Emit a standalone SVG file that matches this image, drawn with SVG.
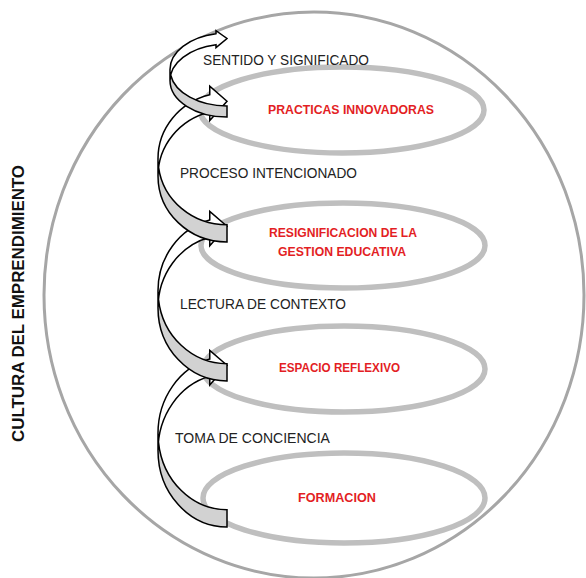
<svg xmlns="http://www.w3.org/2000/svg" width="586" height="578" viewBox="0 0 586 578">
<style>
.outer{fill:none;stroke:#a6a6a6;stroke-width:3}
.ring{fill:none;stroke:#bfbfbf;stroke-width:5.5}
.red{font-family:"Liberation Sans",Arial,sans-serif;font-weight:bold;font-size:12.5px;fill:#e31e24}
.lbl{font-family:"Liberation Sans",Arial,sans-serif;font-size:15px;fill:#222}
.title{font-family:"Liberation Sans",Arial,sans-serif;font-weight:bold;font-size:17px;fill:#111}
.front{fill:#ffffff;stroke:none}
.back{fill:#d2d2d2;stroke:none}
.edge{fill:none;stroke:#000;stroke-width:1.5;stroke-linejoin:miter}
</style>
<rect width="586" height="578" fill="#ffffff"/>
<g id="cultura">
<ellipse class="outer" cx="314" cy="295" rx="270" ry="283"/>
<text class="title" transform="translate(24,303.5) rotate(-90)" text-anchor="middle" textLength="277" lengthAdjust="spacingAndGlyphs">CULTURA DEL EMPRENDIMIENTO</text>
</g>
<g id="practicas">
<ellipse class="ring" cx="342" cy="110" rx="142" ry="43"/>
<text class="red" x="268" y="114" textLength="166" lengthAdjust="spacingAndGlyphs">PRACTICAS INNOVADORAS</text>
</g>
<g id="resignificacion">
<ellipse class="ring" cx="343" cy="245.5" rx="142" ry="42.5"/>
<text class="red" x="269" y="237" textLength="148" lengthAdjust="spacingAndGlyphs">RESIGNIFICACION DE LA</text>
<text class="red" x="278" y="256" textLength="128" lengthAdjust="spacingAndGlyphs">GESTION EDUCATIVA</text>
</g>
<g id="espacio">
<ellipse class="ring" cx="344" cy="369" rx="141" ry="43"/>
<text class="red" x="279" y="372" textLength="121" lengthAdjust="spacingAndGlyphs">ESPACIO REFLEXIVO</text>
</g>
<g id="formacion">
<ellipse class="ring" cx="344" cy="498" rx="141" ry="45"/>
<text class="red" x="298" y="502" textLength="78" lengthAdjust="spacingAndGlyphs">FORMACION</text>
</g>
<g id="connectors">
<g id="arrow-toma" transform="translate(158,527) scale(1,-1)">
<path class="front" d="M0,76.56 A69,76.56 0 0 0 51.75,150.69 L51.75,142.07 L69,161.75 L51.75,176.57 L51.75,167.94 A69,76.56 0 0 1 0,93.81 Z"/>
<path class="back" d="M69,17.25 A69,76.56 0 0 0 0.44,85.19 A69,76.56 0 0 1 69,0 Z"/>
<path class="edge" d="M0,76.56 A69,76.56 0 0 0 51.75,150.69 L51.75,142.07 L69,161.75 L51.75,176.57 L51.75,167.94 A69,76.56 0 0 1 0,93.81 L0,76.56 A69,76.56 0 0 1 69,0 L69,17.25 A69,76.56 0 0 0 0.44,85.19"/>
</g>
<g id="arrow-lectura" transform="translate(158,381) scale(1,-1)">
<path class="front" d="M0,73.06 A69,73.06 0 0 0 51.75,143.8 L51.75,135.18 L69,154.75 L51.75,169.68 L51.75,161.05 A69,73.06 0 0 1 0,90.31 Z"/>
<path class="back" d="M69,17.25 A69,73.06 0 0 0 0.48,81.69 A69,73.06 0 0 1 69,0 Z"/>
<path class="edge" d="M0,73.06 A69,73.06 0 0 0 51.75,143.8 L51.75,135.18 L69,154.75 L51.75,169.68 L51.75,161.05 A69,73.06 0 0 1 0,90.31 L0,73.06 A69,73.06 0 0 1 69,0 L69,17.25 A69,73.06 0 0 0 0.48,81.69"/>
</g>
<g id="arrow-proceso" transform="translate(158,242) scale(1,-1)">
<path class="front" d="M0,66.06 A69,66.06 0 0 0 51.75,130.02 L51.75,121.4 L69,140.75 L51.75,155.9 L51.75,147.27 A69,66.06 0 0 1 0,83.31 Z"/>
<path class="back" d="M69,17.25 A69,66.06 0 0 0 0.59,74.69 A69,66.06 0 0 1 69,0 Z"/>
<path class="edge" d="M0,66.06 A69,66.06 0 0 0 51.75,130.02 L51.75,121.4 L69,140.75 L51.75,155.9 L51.75,147.27 A69,66.06 0 0 1 0,83.31 L0,66.06 A69,66.06 0 0 1 69,0 L69,17.25 A69,66.06 0 0 0 0.59,74.69"/>
</g>
<g id="arrow-sentido" transform="translate(170,117) scale(1,-1)">
<path class="front" d="M0,36.5 A57,36.5 0 0 0 46,72.31 L46,69.31 L57,78.5 L46,86.31 L46,83.31 A57,36.5 0 0 1 0,47.5 Z"/>
<path class="back" d="M57,11 A57,36.5 0 0 0 0.65,42 A57,36.5 0 0 1 57,0 Z"/>
<path class="edge" d="M0,36.5 A57,36.5 0 0 0 46,72.31 L46,69.31 L57,78.5 L46,86.31 L46,83.31 A57,36.5 0 0 1 0,47.5 L0,36.5 A57,36.5 0 0 1 57,0 L57,11 A57,36.5 0 0 0 0.65,42"/>
</g>
<g id="connector-labels">
<text class="lbl" x="203" y="65" textLength="166" lengthAdjust="spacingAndGlyphs">SENTIDO Y SIGNIFICADO</text>
<text class="lbl" x="180" y="178" textLength="177" lengthAdjust="spacingAndGlyphs">PROCESO INTENCIONADO</text>
<text class="lbl" x="180" y="309" textLength="166" lengthAdjust="spacingAndGlyphs">LECTURA DE CONTEXTO</text>
<text class="lbl" x="175" y="443" textLength="155" lengthAdjust="spacingAndGlyphs">TOMA DE CONCIENCIA</text>
</g>
</g>
</svg>
